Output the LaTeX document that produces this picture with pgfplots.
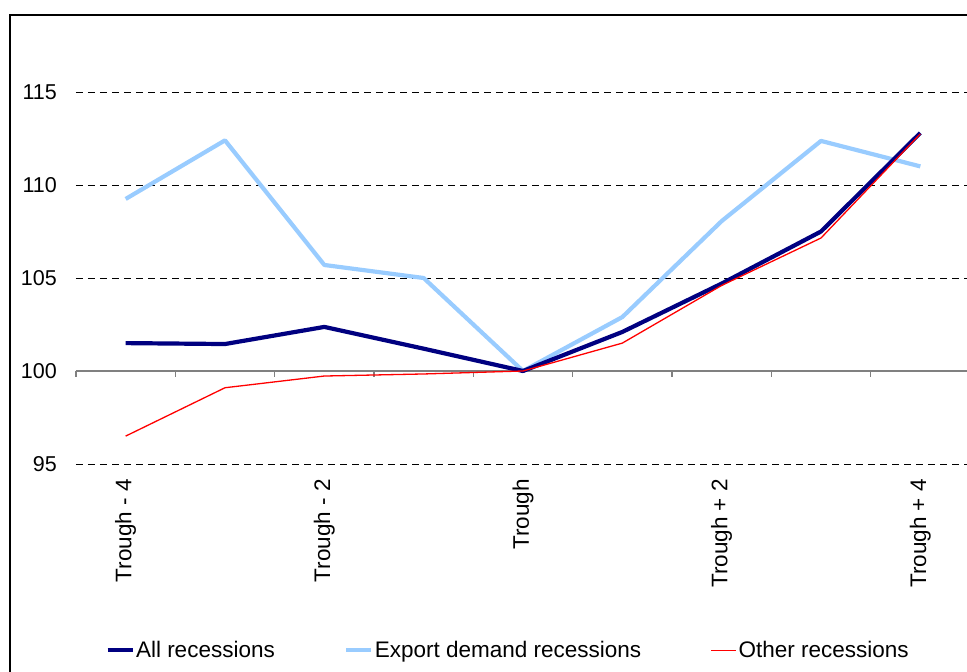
\documentclass[border=0pt]{standalone}
\usepackage{pgfplots}
\pgfplotsset{compat=1.18}
\usepackage{fontspec}
\setmainfont{Liberation Sans}
\definecolor{navyc}{HTML}{000080}
\definecolor{lblue}{HTML}{99CCFF}
\definecolor{redc}{HTML}{FF0000}
\begin{document}
\begin{tikzpicture}[x=1pt,y=1pt]
\useasboundingbox (0,0) rectangle (967,672);
\draw[line width=2pt] (10,657) rectangle (1100,-50);
\begin{axis}[
  at={(76pt,208pt)}, anchor=south west,
  scale only axis, width=894pt, height=446.4pt,
  xmin=-0.5, xmax=8.5, ymin=95, ymax=119,
  axis line style={draw=none},
  major tick length=0pt,
  xtick={0,2,4,6,8},
  xticklabels={Trough - 4, Trough - 2, Trough, Trough + 2, Trough + 4},
  ytick={95,100,105,110,115},
  ymajorgrids,
  grid style={black, line width=0.9pt, dash pattern=on 7pt off 5pt},
  /pgf/number format/assume math mode=true,
  yticklabel style={inner sep=0pt, anchor=east, xshift=-19pt, font=\fontsize{21.5}{25}\selectfont},
  xticklabel style={inner sep=0pt, yshift=-15pt, rotate=90, anchor=east, font=\fontsize{22.5}{26}\selectfont},
  legend columns=3,
  legend style={draw=none, at={(0.483,-0.417)}, anchor=center,
    font=\fontsize{22.5}{26}\selectfont,
    nodes={inner sep=1.5pt},
    /tikz/every even column/.append style={column sep=68pt}},
  legend cell align=left,
  legend image code/.code={\draw[#1] (0pt,0pt) -- (25pt,0pt);},
  clip=false,
]
\addlegendimage{navyc, line width=4pt}
\addlegendentry{All recessions}
\addlegendimage{lblue, line width=4pt}
\addlegendentry{Export demand recessions}
\addlegendimage{redc, line width=1.3pt}
\addlegendentry{Other recessions}

\draw[gray, line width=1.6pt] (axis cs:-0.5,100) -- (axis cs:8.5,100);
\pgfplotsinvokeforeach{-0.5,0.5,1.5,2.5,3.5,4.5,5.5,6.5,7.5,8.5}{
  \draw[gray, line width=1.2pt] (axis cs:#1,100) -- ++(0pt,-6pt);
}

\addplot[lblue, line width=4.2pt, line join=round, forget plot] coordinates {
(0,109.25) (1,112.4) (2,105.7) (3,105.0) (4,100) (5,102.9) (6,108.06) (7,112.37) (8,111.0)};
\addplot[navyc, line width=4.2pt, line join=round, forget plot] coordinates {
(0,101.5) (1,101.45) (2,102.37) (3,101.2) (4,100) (5,102.1) (6,104.7) (7,107.5) (8,112.8)};
\addplot[redc, line width=1.3pt, forget plot] coordinates {
(0,96.5) (1,99.1) (2,99.73) (3,99.84) (4,100) (5,101.5) (6,104.6) (7,107.15) (8,112.75)};
\end{axis}
\end{tikzpicture}
\end{document}
